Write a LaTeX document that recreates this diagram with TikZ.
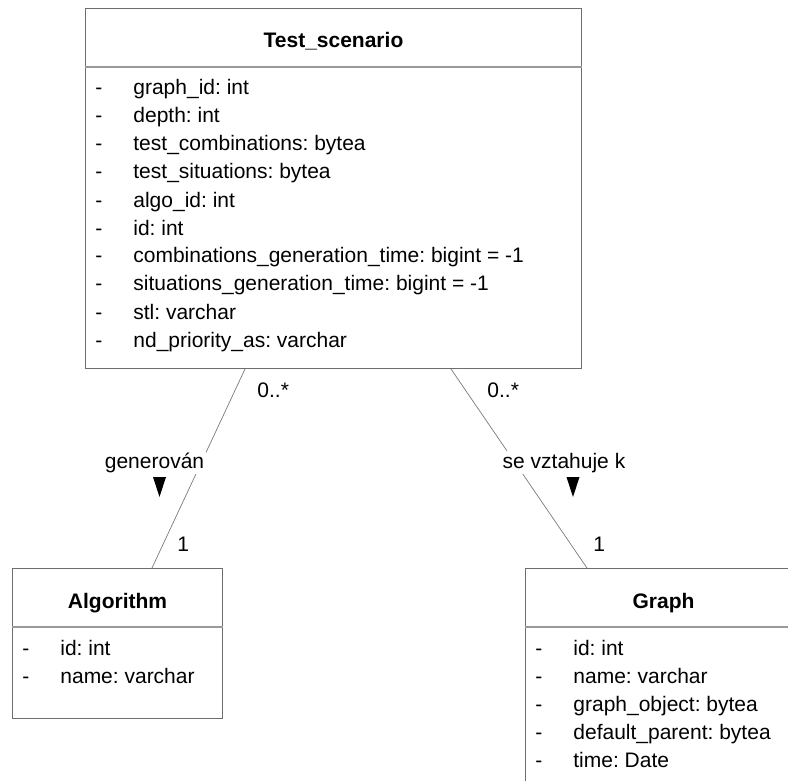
\documentclass[tikz,border=0pt]{standalone}
\usepackage{fontspec}
\setmainfont{Liberation Sans}
\usetikzlibrary{positioning,calc}
\frenchspacing
\definecolor{boxgray}{HTML}{6E6E6E}
\definecolor{sepgray}{HTML}{9A9A9A}
\definecolor{assocgray}{HTML}{7A7A7A}
\newcommand{\umlfont}{\fontsize{10.5}{12}\selectfont}
\tikzset{
  umlclass/.style={draw=boxgray, line width=0.5pt, anchor=north west, inner sep=0pt},
  classname/.style={anchor=base, font=\umlfont\bfseries, inner sep=0pt},
  attr/.style={anchor=base west, font=\umlfont, inner sep=0pt},
  mult/.style={anchor=base west, font=\umlfont, inner sep=0pt},
  rolename/.style={anchor=base, font=\umlfont, fill=white, inner sep=1pt},
  assoc/.style={draw=assocgray, line width=0.35pt},
  sepline/.style={draw=sepgray, line width=0.7pt},
}
% attributes of a class box: #1 = box name, #2 = list
\newcommand{\umlattrs}[2]{%
  \foreach \a [count=\i from 0] in {#2} {
    \node[attr] (#1-dash\i) at ($(#1.north west)+(10,87+28*\i)$) {-};
    \node[attr] (#1-attr\i) at ($(#1.north west)+(48,87+28*\i)$) {\a};
  }}
\begin{document}
\begin{tikzpicture}[x=0.5pt, y=-0.5pt]
  \useasboundingbox (0,0) rectangle (788,781);
  \clip (0,0) rectangle (788,781);

  % classes
  \node[umlclass, minimum width=248pt, minimum height=180pt] (ts) at (85,8) {};
  \node[classname] (ts-title) at ($(ts.north)+(0,40)$) {Test\_scenario};
  \draw[sepline] ($(ts.north west)+(0,59)$) -- ($(ts.north east)+(0,59)$);
  \umlattrs{ts}{graph\_id: int, depth: int, test\_combinations: bytea,
    test\_situations: bytea, algo\_id: int, id: int,
    combinations\_generation\_time: bigint = -1,
    situations\_generation\_time: bigint = -1,
    stl: varchar, nd\_priority\_as: varchar}

  \node[umlclass, minimum width=105pt, minimum height=75pt] (algo) at (12,568) {};
  \node[classname] (algo-title) at ($(algo.north)+(0,40)$) {Algorithm};
  \draw[sepline] ($(algo.north west)+(0,59)$) -- ($(algo.north east)+(0,59)$);
  \umlattrs{algo}{id: int, name: varchar}

  \node[umlclass, minimum width=138pt, minimum height=116pt] (graph) at (525,568) {};
  \node[classname] (graph-title) at ($(graph.north)+(0,40)$) {Graph};
  \draw[sepline] ($(graph.north west)+(0,59)$) -- ($(graph.north east)+(0,59)$);
  \umlattrs{graph}{id: int, name: varchar, graph\_object: bytea,
    default\_parent: bytea, time: Date}

  % associations
  \coordinate (ts-algo) at ($(ts.south west)+(160,0)$);
  \coordinate (algo-ts) at ($(algo.north west)+(140,0)$);
  \coordinate (ts-graph) at ($(ts.south west)+(366,0)$);
  \coordinate (graph-ts) at ($(graph.north west)+(62,0)$);
  \draw[assoc] (ts-algo) -- (algo-ts);
  \draw[assoc] (ts-graph) -- (graph-ts);

  \node[rolename] (gen) at (154.5,468) {generován};
  \node[rolename] (rel) at (564,468) {se vztahuje k};
  \fill (153,477) -- (166,477) -- (159.5,497) -- cycle;
  \fill (566.5,477) -- (579.5,477) -- (573,497) -- cycle;

  \node[mult] (m-ts-algo) at (257,397) {0..*};
  \node[mult] (m-algo) at (177,551) {1};
  \node[mult] (m-ts-graph) at (487,397) {0..*};
  \node[mult] (m-graph) at (593,551) {1};
\end{tikzpicture}
\end{document}
